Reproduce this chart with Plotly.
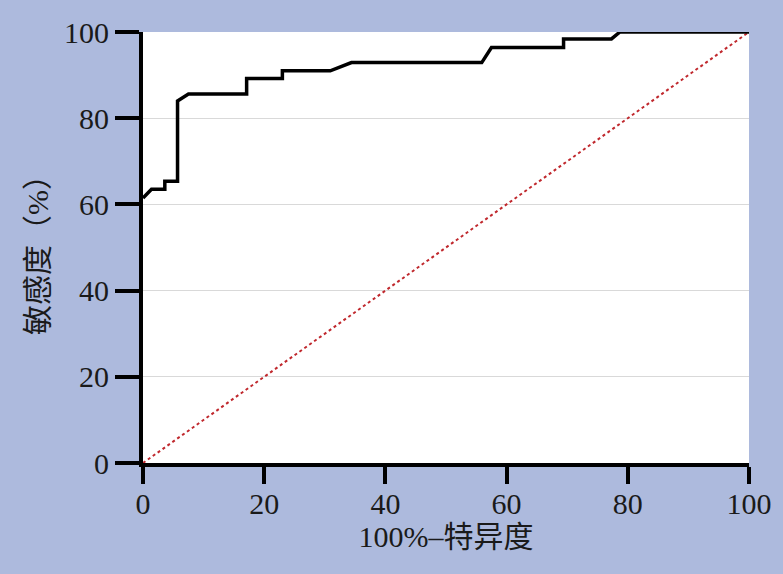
import plotly.graph_objects as go

# ROC curve data
fpr = [0, 1.4, 3.6, 3.6, 5.7, 5.7, 7.5, 17.1, 17.1, 23.0, 23.0, 30.9, 34.4, 55.9, 57.5, 69.4, 69.4, 77.3, 78.7, 100]
tpr = [61.5, 63.5, 63.5, 65.4, 65.4, 84.0, 85.6, 85.6, 89.2, 89.2, 91.0, 91.0, 92.9, 92.9, 96.4, 96.4, 98.4, 98.4, 100, 100]
ref_x = [0, 100]
ref_y = [0, 100]
tick_vals = [0, 20, 40, 60, 80, 100]
tick_text = ["0", "20", "40", "60", "80", "100"]

FONT = "Liberation Serif, Noto Sans CJK SC, serif"
BG = "#adbadd"

fig = go.Figure()
fig.add_trace(go.Scatter(x=ref_x, y=ref_y, mode="lines",
                         line=dict(color="#c0282d", width=2, dash="dot"),
                         cliponaxis=False, showlegend=False))
fig.add_trace(go.Scatter(x=fpr, y=tpr, mode="lines",
                         line=dict(color="black", width=3.5),
                         cliponaxis=False, showlegend=False))

fig.update_layout(
    width=783, height=574,
    margin=dict(l=143, r=34, t=32, b=111),
    paper_bgcolor=BG, plot_bgcolor="white",
    font=dict(family=FONT, size=30, color="#1a1a1a"),
    showlegend=False,
)
fig.update_xaxes(
    range=[0, 100], tickvals=tick_vals, ticktext=tick_text,
    showgrid=False, zeroline=False,
    showline=True, linecolor="black", linewidth=4,
    ticks="outside", ticklen=17, tickwidth=4, tickcolor="black",
    ticklabelstandoff=-6,
    tickfont=dict(family=FONT, size=30),
    title=dict(text="100%–特异度", font=dict(family=FONT, size=30), standoff=6),
)
fig.update_yaxes(
    range=[0, 100], tickvals=tick_vals, ticktext=tick_text,
    showgrid=True, gridcolor="#d9d9d9", gridwidth=1, zeroline=False,
    showline=True, linecolor="black", linewidth=4,
    ticks="outside", ticklen=24, tickwidth=4, tickcolor="black",
    tickfont=dict(family=FONT, size=30),
    title=dict(text="敏感度（%）", font=dict(family=FONT, size=30), standoff=8),
)

fig.write_html("out.html", config={"displayModeBar": False},
               post_script="document.body.style.margin='0';document.body.style.background='%s';" % BG)
